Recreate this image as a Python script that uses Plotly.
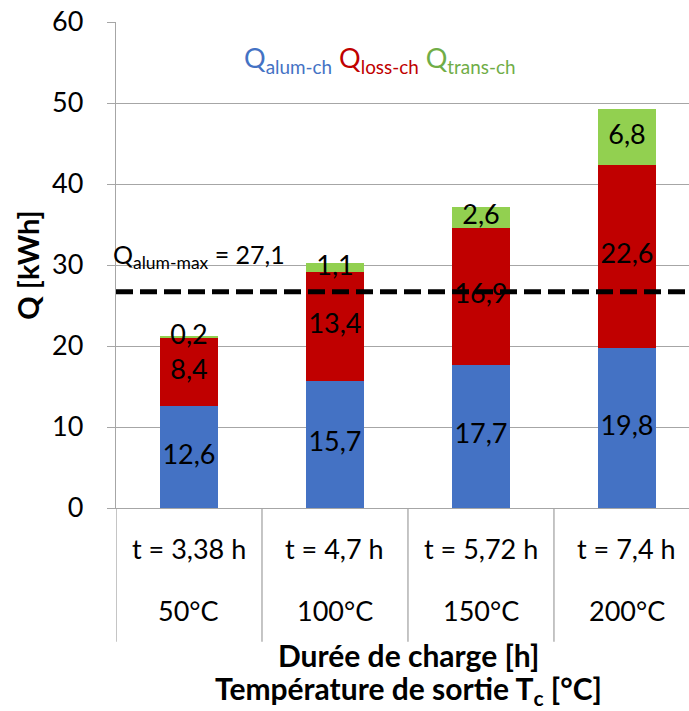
import plotly.graph_objects as go

# valeurs
durees = ["t = 3,38 h", "t = 4,7 h", "t = 5,72 h", "t = 7,4 h"]
temperatures = ["50°C", "100°C", "150°C", "200°C"]
q_alum = [12.6, 15.7, 17.7, 19.8]
q_loss = [8.4, 13.4, 16.9, 22.6]
q_trans = [0.2, 1.1, 2.6, 6.8]
q_alum_max = 26.7  # position de la ligne tiretée
q_alum_max_txt = "27,1"

FONT = "Lato"
BLUE, RED, GREEN = "#4472C4", "#C00000", "#92D050"
GRID = "#a6a6a6"


def fr(v):
    return f"{v:.1f}".replace(".", ",")


fig = go.Figure()
for vals, col in [(q_alum, BLUE), (q_loss, RED), (q_trans, GREEN)]:
    fig.add_trace(go.Bar(x=durees, y=vals, marker_color=col, width=0.4,
                         marker_line_width=0, showlegend=False))

# étiquettes au centre de chaque segment
base = [0.0] * len(durees)
for vals in [q_alum, q_loss, q_trans]:
    mid = [b + v / 2 for b, v in zip(base, vals)]
    fig.add_trace(go.Scatter(x=durees, y=mid, mode="text",
                             text=[fr(v) for v in vals],
                             textfont=dict(family=FONT, size=27, color="black"),
                             showlegend=False, hoverinfo="skip"))
    base = [b + v for b, v in zip(base, vals)]

fig.update_layout(
    width=689, height=711,
    margin=dict(l=116, r=0, t=22, b=203),
    paper_bgcolor="white", plot_bgcolor="white",
    barmode="stack",
    font=dict(family=FONT, size=27, color="black"),
)

fig.update_xaxes(range=[-0.5, 3.425], showticklabels=False, ticks="",
                 showline=True, linecolor=GRID, linewidth=1.3, showgrid=False,
                 zeroline=False)
fig.update_yaxes(range=[0, 60], dtick=10, showgrid=True, gridcolor=GRID,
                 gridwidth=1.3, showline=True, linecolor=GRID, linewidth=1.3,
                 ticks="outside", ticklen=8, tickcolor=GRID, zeroline=False,
                 ticklabelstandoff=18, tickfont=dict(size=27),
                 title=dict(text="<b>Q [kWh]</b>", font=dict(size=29), standoff=3))

# ligne Qalum-max
fig.add_shape(type="line", xref="paper", x0=0, x1=1, y0=q_alum_max, y1=q_alum_max,
              line=dict(color="black", width=5, dash="17px,7px"), layer="above")
fig.add_annotation(xref="paper", x=-0.009, y=q_alum_max + 4.4, xanchor="left",
                   yanchor="middle", showarrow=False,
                   text=f"Q<sub>alum-max</sub> = {q_alum_max_txt}",
                   font=dict(size=25))

# légende
fig.add_annotation(xref="paper", yref="paper", x=0.46, y=0.922, xanchor="center",
                   yanchor="middle", showarrow=False,
                   text=(f"<span style='color:{BLUE}'>Q<sub>alum-ch</sub></span> "
                         f"<span style='color:{RED}'>Q<sub>loss-ch</sub></span> "
                         f"<span style='color:#70AD47'>Q<sub>trans-ch</sub></span>"),
                   font=dict(size=27))

# étiquettes de catégories sur deux lignes + séparateurs
for i, (d, t) in enumerate(zip(durees, temperatures)):
    fig.add_annotation(x=d, yref="paper", y=-0.083, text=d, showarrow=False,
                       xanchor="center", yanchor="middle", font=dict(size=27))
    fig.add_annotation(x=d, yref="paper", y=-0.210, text=t, showarrow=False,
                       xanchor="center", yanchor="middle", font=dict(size=27))
    fig.add_shape(type="line", x0=i - 0.5, x1=i - 0.5, yref="paper", y0=0, y1=-0.275,
                  line=dict(color=GRID, width=1.3))

fig.add_annotation(xref="paper", x=0.51, yref="paper", y=-0.302, showarrow=False,
                   xanchor="center", yanchor="middle",
                   text="<b>Durée de charge [h]</b>", font=dict(size=30))
fig.add_annotation(xref="paper", x=0.51, yref="paper", y=-0.374, showarrow=False,
                   xanchor="center", yanchor="middle",
                   text="<b>Température de sortie T<sub>c</sub> [°C]</b>",
                   font=dict(size=30))

fig.write_html("out.html", post_script="document.body.style.margin='0';",
               config={"displayModeBar": False})
